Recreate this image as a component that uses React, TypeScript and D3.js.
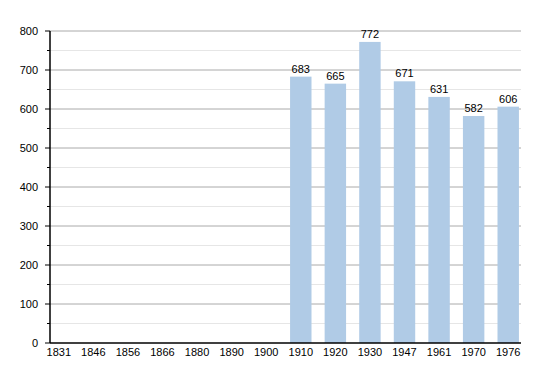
import React from "react";
import * as d3 from "d3";

const years = ["1831","1846","1856","1866","1880","1890","1900","1910","1920","1930","1947","1961","1970","1976"];
const population: (number | null)[] = [null,null,null,null,null,null,null,683,665,772,671,631,582,606];
const yTicks = [0,100,200,300,400,500,600,700,800];
const yMinor = [50,150,250,350,450,550,650,750];

export default function App() {
  const W = 550, H = 373;
  const left = 50, right = 521, top = 31, bottom = 343;
  const y = d3.scaleLinear().domain([0, 800]).range([bottom, top]);
  const x = d3.scaleBand().domain(years).range([41.5, 525.5]).paddingInner(0.38).paddingOuter(0.19);
  const font = "'Liberation Sans', Arial, sans-serif";
  return (
    <svg width={W} height={H} style={{ position: "absolute", left: 0, top: 0 }}>
      <rect width={W} height={H} fill="#fff" />
      {yMinor.map(v => (
        <line key={"m"+v} x1={left} x2={right} y1={y(v)} y2={y(v)} stroke="#e6e6e6" strokeWidth={1} />
      ))}
      {yTicks.filter(v => v > 0).map(v => (
        <line key={"g"+v} x1={left} x2={right} y1={y(v)} y2={y(v)} stroke="#aaaaaa" strokeWidth={1} />
      ))}
      {years.map((yr, i) => {
        const v = population[i];
        if (v == null) return null;
        const bx = x(yr)!, bw = x.bandwidth();
        return (
          <g key={yr}>
            <rect x={bx} y={y(v)} width={bw} height={bottom - y(v)} fill="#b0cbe6" />
            <text x={bx + bw / 2} y={y(v) - 4} textAnchor="middle" fontFamily={font} fontSize={11} fill="#000">{v}</text>
          </g>
        );
      })}
      <line x1={left} x2={left} y1={top} y2={bottom} stroke="#000" strokeWidth={1.5} />
      <line x1={left} x2={right} y1={bottom} y2={bottom} stroke="#000" strokeWidth={1.5} />
      {yTicks.map(v => (
        <g key={"t"+v}>
          <line x1={left - 5} x2={left} y1={y(v)} y2={y(v)} stroke="#000" />
          <text x={38} y={y(v) + 4} textAnchor="end" fontFamily={font} fontSize={11} fill="#000">{v}</text>
        </g>
      ))}
      {yMinor.map(v => (
        <line key={"mt"+v} x1={left - 3} x2={left} y1={y(v)} y2={y(v)} stroke="#000" />
      ))}
      {years.map(yr => (
        <text key={"x"+yr} x={x(yr)! + x.bandwidth() / 2} y={356} textAnchor="middle" fontFamily={font} fontSize={11} fill="#000">{yr}</text>
      ))}
    </svg>
  );
}
